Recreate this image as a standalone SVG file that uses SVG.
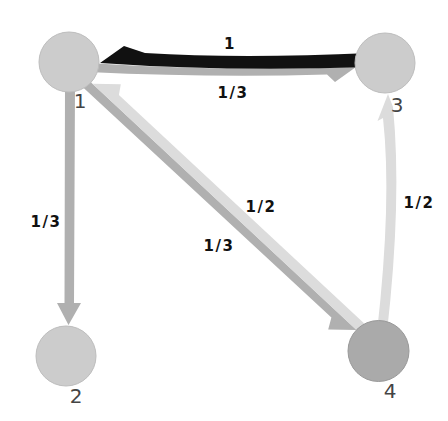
<svg xmlns="http://www.w3.org/2000/svg" width="448" height="421" viewBox="0 0 448 421">
  <style>
    .node { fill: #cccccc; stroke: #bdbdbd; stroke-width: 1; }
    .node.dark { fill: #aaaaaa; stroke: #999999; }
    .nlabel { font-family: "DejaVu Sans", "Liberation Sans", sans-serif; font-size: 20px; fill: #444444; text-anchor: middle; }
    .w1 { fill: #111111; }
    .w3 { fill: #b0b0b0; }
    .w2 { fill: #dcdcdc; }
    .elabel { font-family: "DejaVu Sans", "Liberation Sans", sans-serif; font-size: 15px; font-weight: bold; fill: #111111; letter-spacing: 1.5px; text-anchor: middle; }
  </style>
  <rect width="448" height="421" fill="#ffffff"/>

  <g id="connectors">
    <!-- 1 -> 3, weight 1/3 -->
    <g id="e1-3">
      <path class="w3" d="M88,63 Q228,72 356,67 L335,82 L327,74.5 Q215,78 88,72 Z"/>
      <text class="elabel" x="233" y="98">1/3</text>
    </g>
    <!-- 3 -> 1, weight 1 -->
    <g id="e3-1">
      <path class="w1" d="M370,53 Q240,59 145,53 L124,46 L100,63 Q228,72 370,67 Z"/>
      <text class="elabel" x="230" y="49">1</text>
    </g>
    <!-- 1 -> 2, weight 1/3 -->
    <g id="e1-2">
      <path class="w3" d="M65,85 L75,85 L74,303 L81,303 L68.5,325 L57,303 L64.5,303 Z"/>
      <text class="elabel" x="46" y="227">1/3</text>
    </g>
    <!-- 1 -> 4, weight 1/3 -->
    <g id="e1-4">
      <path class="w3" d="M83.6,75.6 L356.6,330 L328.2,329.6 L331.4,317.4 L77.5,82.2 Z"/>
      <text class="elabel" x="219" y="251">1/3</text>
    </g>
    <!-- 4 -> 1, weight 1/2 -->
    <g id="e4-1">
      <path class="w2" d="M363.9,336.9 L92.4,83.8 L120.8,84.2 L118.9,94.9 L370.7,329.6 Z"/>
      <text class="elabel" x="261" y="212">1/2</text>
    </g>
    <!-- 4 -> 3, weight 1/2 -->
    <g id="e4-3">
      <path class="w2" d="M377,332 Q392,200 383,118 L377.5,121 L388,94 L393,107 Q402,200 387,332 Z"/>
      <text class="elabel" x="419" y="208">1/2</text>
    </g>
  </g>

  <g id="node1">
    <circle class="node" cx="69" cy="62" r="30"/>
    <text class="nlabel" x="80" y="108">1</text>
  </g>
  <g id="node2">
    <circle class="node" cx="66" cy="356" r="30"/>
    <text class="nlabel" x="76" y="403">2</text>
  </g>
  <g id="node3">
    <circle class="node" cx="385" cy="63" r="30"/>
    <text class="nlabel" x="397" y="112">3</text>
  </g>
  <g id="node4">
    <circle class="node dark" cx="378.5" cy="351" r="30.5"/>
    <text class="nlabel" x="390" y="398">4</text>
  </g>
</svg>
